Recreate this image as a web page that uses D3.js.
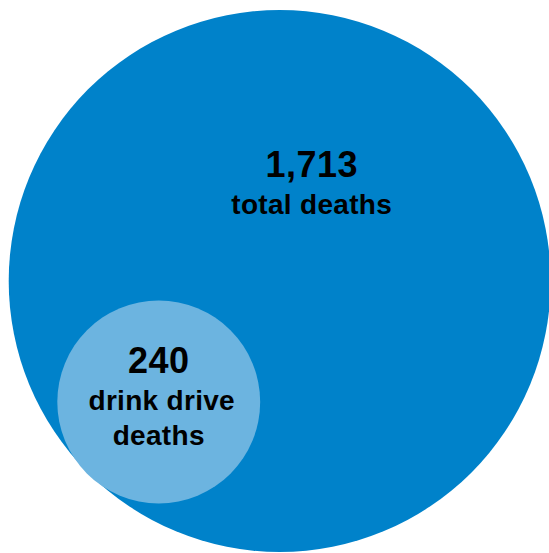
<!DOCTYPE html>
<html>
<head>
<meta charset="utf-8">
<script src="https://cdn.jsdelivr.net/npm/d3@7"></script>
<style>
  html, body { margin: 0; padding: 0; background: #fff; }
  svg { display: block; }
</style>
</head>
<body>
<svg id="canvas" width="549" height="553"></svg>
<script>
// chart data
let names = ["total", "drinkDrive"];
let deaths = [1713, 240];
let numberLabels = ["1,713", "240"];
let textLines = [["total deaths"], ["drink drive", "deaths"]];
let fills = ["#0082ca", "#6cb4e0"];

let width = 549;
let height = 553;

let canvas = d3.select("#canvas");

// area-proportional radius
let radius = d3.scaleSqrt().domain([0, d3.max(deaths)]).range([0, 271]);

let bigR = radius(deaths[0]);
let bigX = 8.7 + bigR;
let bigY = 10 + bigR;

// small circle sits inside the big one, touching its lower-left edge
let smallR = radius(deaths[1]);
let angle = (135 * Math.PI) / 180;
let smallX = bigX + (bigR - smallR + 1.5) * Math.cos(angle);
let smallY = bigY + (bigR - smallR + 1.5) * Math.sin(angle);

let circles = [
  { cx: bigX, cy: bigY, r: bigR },
  { cx: smallX, cy: smallY, r: smallR }
];

canvas
  .selectAll("circle")
  .data(circles)
  .enter()
  .append("circle")
  .attr("cx", (d) => d.cx)
  .attr("cy", (d) => d.cy)
  .attr("r", (d) => d.r)
  .attr("fill", (d, i) => fills[i]);

// labels, offsets relative to circle centres
let labelSpots = [
  { dx: 32, numY: -104, lineY: -67, step: 35 },
  { dx: 0, numY: -28.5, lineY: 8.5, step: 35 }
];

circles.forEach((c, i) => {
  let spot = labelSpots[i];
  let g = canvas.append("g").attr("transform", "translate(" + (c.cx + spot.dx) + "," + c.cy + ")");

  g.append("text")
    .text(numberLabels[i])
    .attr("x", 0)
    .attr("y", spot.numY)
    .attr("text-anchor", "middle")
    .style("font-family", "'Liberation Sans', Arial, sans-serif")
    .style("font-weight", "bold")
    .style("font-size", "36px")
    .style("letter-spacing", "0.5px")
    .attr("fill", "#000");

  textLines[i].forEach((line, j) => {
    g.append("text")
      .text(line)
      .attr("x", i === 1 && j === 0 ? 3 : 0)
      .attr("y", spot.lineY + j * spot.step)
      .attr("text-anchor", "middle")
      .style("font-family", "'Liberation Sans', Arial, sans-serif")
      .style("font-weight", "bold")
      .style("font-size", "28px")
      .style("letter-spacing", "0.3px")
      .attr("fill", "#000");
  });
});
</script>
</body>
</html>
